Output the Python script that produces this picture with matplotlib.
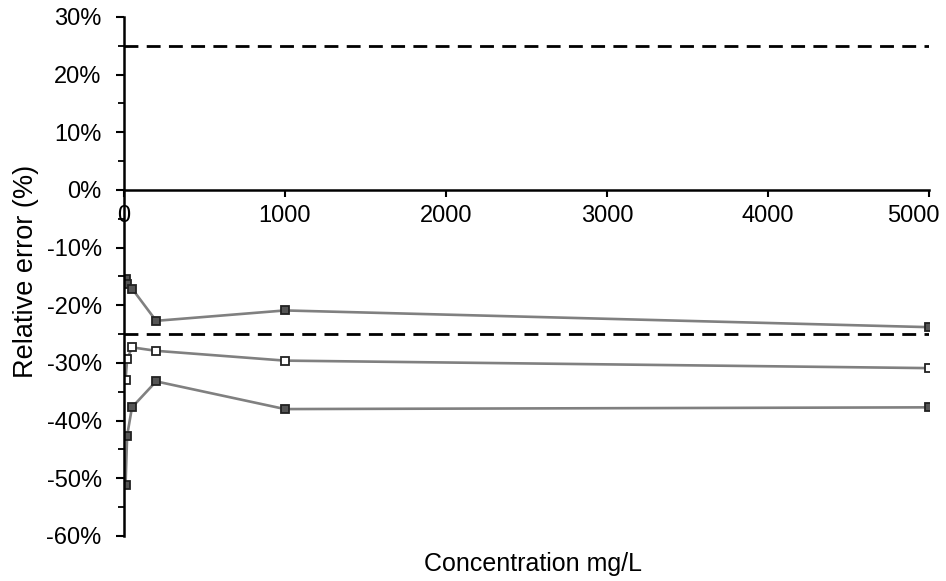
import matplotlib
matplotlib.use("Agg")
import matplotlib.pyplot as plt
import matplotlib.transforms as mtransforms
from matplotlib.ticker import FuncFormatter, MultipleLocator

plt.rcParams['font.family'] = ['Liberation Sans', 'DejaVu Sans']

# concentrations (mg/L) and relative errors (%)
conc = [10, 20, 50, 200, 1000, 5000]
err_high = [-15.4, -16.3, -17.1, -22.7, -20.9, -23.8]
err_mid = [-32.9, -29.4, -27.3, -27.9, -29.6, -30.9]
err_low = [-51.2, -42.6, -37.7, -33.2, -38.0, -37.7]

limit_x = [0, 5000]
upper_limit = [25, 25]
lower_limit = [-25, -25]

fig = plt.figure(figsize=(9.46, 5.81), dpi=100)
ax = fig.add_axes([0.131, 0.0775, 0.851, 0.8935])

# acceptance limits
dash = (0, (5, 3))
ax.plot(limit_x, upper_limit, color='black', lw=2.0, linestyle=dash)
ax.plot(limit_x, lower_limit, color='black', lw=2.0, linestyle=dash)

# measured series
for vals, face in [(err_high, '#555555'), (err_mid, 'white'), (err_low, '#555555')]:
    ax.plot(conc, vals, color='#808080', lw=1.9, marker='s', markersize=5.5,
            markerfacecolor=face, markeredgecolor='#222222', markeredgewidth=1.3)

ax.set_xlim(0, 5000)
ax.set_ylim(-60, 30)

# axes: x axis crosses at 0%
ax.spines['top'].set_visible(False)
ax.spines['right'].set_visible(False)
ax.spines['bottom'].set_position(('data', 0))
ax.spines['left'].set_linewidth(1.8)
ax.spines['bottom'].set_linewidth(1.8)

ax.set_xticks([0, 1000, 2000, 3000, 4000, 5000])
ax.set_yticks(range(-60, 31, 10))
ax.yaxis.set_minor_locator(MultipleLocator(5))
ax.yaxis.set_major_formatter(FuncFormatter(lambda v, p: f"{int(v)}%"))

ax.tick_params(axis='x', direction='out', length=5, width=1.5, labelsize=17, pad=6)
ax.tick_params(axis='y', which='major', direction='out', length=6, width=1.5,
               labelsize=17, pad=10)
ax.tick_params(axis='y', which='minor', direction='out', length=4, width=1.3)

# last x label pulled left so it stays inside the figure
last = ax.get_xticklabels()[-1]
last.set_transform(last.get_transform() +
                   mtransforms.ScaledTranslation(-0.16, 0, fig.dpi_scale_trans))

ax.set_ylabel('Relative error (%)', fontsize=19.5)
ax.yaxis.set_label_coords(-0.105, 0.51)
fig.text(0.563, 0.008, 'Concentration mg/L', fontsize=18, ha='center', va='bottom')

fig.savefig('out.png', dpi=100)
